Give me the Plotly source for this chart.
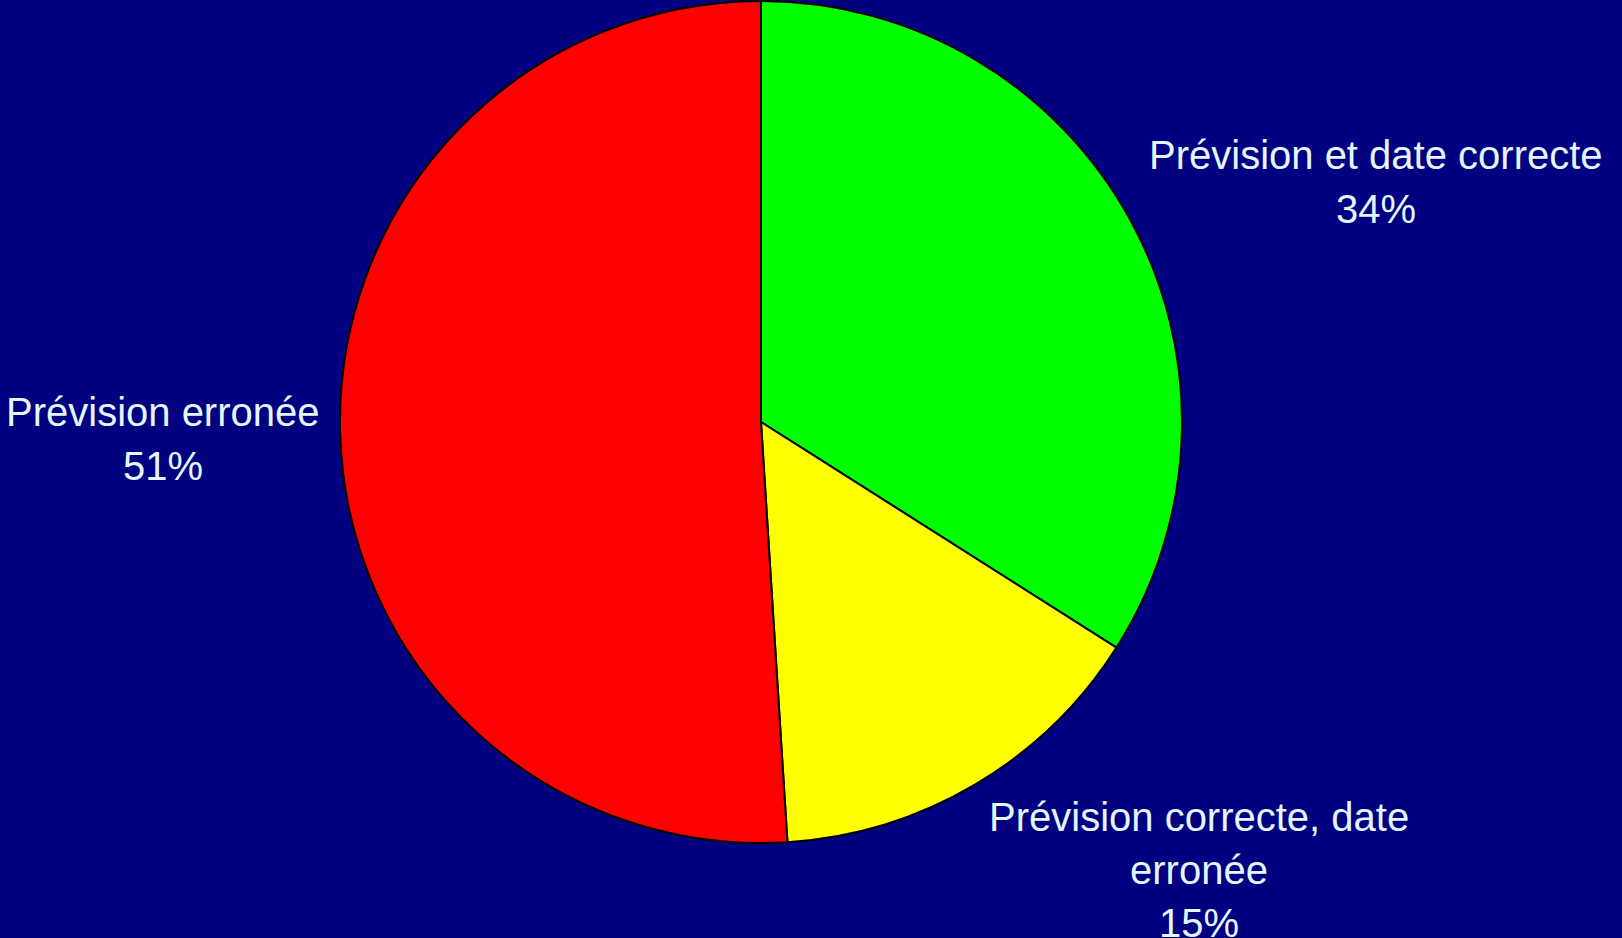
import plotly.graph_objects as go

categories = ["Prévision et date correcte", "Prévision correcte, date erronée", "Prévision erronée"]
values = [34, 15, 51]
colors = ["#00ff00", "#ffff00", "#ff0000"]
label_lines = [
    ["Prévision et date correcte", "34%"],
    ["Prévision correcte, date", "erronée", "15%"],
    ["Prévision erronée", "51%"],
]

W, H = 1622, 938
cx, cy, r = 761, 422, 421

fig = go.Figure(go.Pie(
    labels=categories,
    values=values,
    sort=False,
    direction="clockwise",
    rotation=0,
    marker=dict(colors=colors, line=dict(color="black", width=2)),
    textinfo="none",
    hoverinfo="label+percent",
    showlegend=False,
    domain=dict(x=[(cx - r) / W, (cx + r) / W], y=[(H - cy - r) / H, (H - cy + r) / H]),
))

# label anchor positions (pixels: centre x, first-line y, line step)
label_pos = [(1376, 155, 54), (1199, 817, 53), (163, 412, 54)]
annotations = []
for lines, (lx, ly, step) in zip(label_lines, label_pos):
    for i, line in enumerate(lines):
        annotations.append(dict(
            x=lx / W, y=1 - (ly + i * step) / H, xref="paper", yref="paper",
            text=line, showarrow=False, xanchor="center", yanchor="middle",
            font=dict(family="Liberation Sans, Arial, sans-serif", size=40, color="#e4f6ff"),
        ))

fig.update_layout(
    width=W, height=H,
    paper_bgcolor="#000080", plot_bgcolor="#000080",
    margin=dict(l=0, r=0, t=0, b=0),
    annotations=annotations,
)

fig.write_html(
    "out.html",
    config={"displayModeBar": False},
    post_script="document.body.style.margin='0';document.body.style.background='#000080';",
)
